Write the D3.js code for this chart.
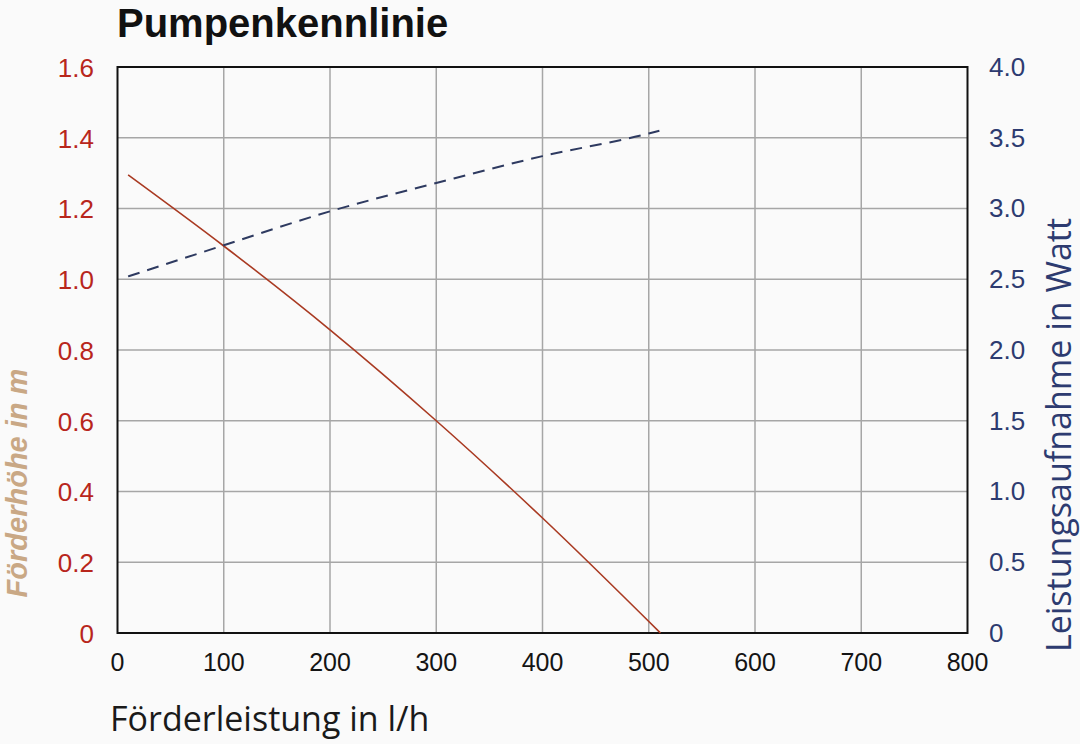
<!DOCTYPE html>
<html>
<head>
<meta charset="utf-8">
<script src="https://cdn.jsdelivr.net/npm/d3@7"></script>
<style>
  html, body { margin: 0; padding: 0; background: #fafafa; }
  svg { display: block; }
  .grid line { stroke: #a6a6a6; stroke-width: 1.5; }
  .tick-left { fill: #b8261c; font-family: "Liberation Sans", Arial, sans-serif; font-size: 26px; }
  .tick-right { fill: #2d3b70; font-family: "Liberation Sans", Arial, sans-serif; font-size: 26px; }
  .tick-bottom { fill: #141414; font-family: "Liberation Sans", Arial, sans-serif; font-size: 25px; }
</style>
</head>
<body>
<svg id="chart" width="1080" height="744" viewBox="0 0 1080 744"></svg>
<script>
// Förderleistung (l/h) sample points
const flowHead = [10, 100, 200, 300, 400, 511];
const headValues = [1.295, 1.094, 0.857, 0.6, 0.325, 0];
const flowPower = [10, 100, 200, 300, 400, 500, 510];
const powerValues = [2.52, 2.74, 2.98, 3.18, 3.37, 3.53, 3.55];

const xTicks = [0, 100, 200, 300, 400, 500, 600, 700, 800];
const headTicks = [0, 0.2, 0.4, 0.6, 0.8, 1.0, 1.2, 1.4, 1.6];
const powerTicks = [0, 0.5, 1.0, 1.5, 2.0, 2.5, 3.0, 3.5, 4.0];

const svg = d3.select("#chart");
const LEFT = 117.5;
const RIGHT = 967.5;
const TOP = 67;
const BOTTOM = 633;

const x = d3.scaleLinear().domain([0, 800]).range([LEFT, RIGHT]);
const yHead = d3.scaleLinear().domain([0, 1.6]).range([BOTTOM, TOP]);
const yPower = d3.scaleLinear().domain([0, 4]).range([BOTTOM, TOP]);

// grid
const grid = svg.append("g").attr("class", "grid");
grid.selectAll("line.v")
  .data(xTicks.slice(1, -1))
  .enter()
  .append("line")
  .attr("x1", (d) => x(d))
  .attr("x2", (d) => x(d))
  .attr("y1", TOP)
  .attr("y2", BOTTOM);
grid.selectAll("line.h")
  .data(headTicks.slice(1, -1))
  .enter()
  .append("line")
  .attr("x1", LEFT)
  .attr("x2", RIGHT)
  .attr("y1", (d) => yHead(d))
  .attr("y2", (d) => yHead(d));

// frame
svg.append("rect")
  .attr("x", LEFT)
  .attr("y", TOP)
  .attr("width", RIGHT - LEFT)
  .attr("height", BOTTOM - TOP)
  .attr("fill", "none")
  .attr("stroke", "#111")
  .attr("stroke-width", 2);

// curves
const headLine = d3.line()
  .x((d, i) => x(flowHead[i]))
  .y((d) => yHead(d))
  .curve(d3.curveMonotoneX);
svg.append("path")
  .attr("d", headLine(headValues))
  .attr("fill", "none")
  .attr("stroke", "#a93a22")
  .attr("stroke-width", 1.6);

const powerLine = d3.line()
  .x((d, i) => x(flowPower[i]))
  .y((d) => yPower(d))
  .curve(d3.curveMonotoneX);
svg.append("path")
  .attr("d", powerLine(powerValues))
  .attr("fill", "none")
  .attr("stroke", "#2e3a60")
  .attr("stroke-width", 2)
  .attr("stroke-dasharray", "12 8");

// tick labels
svg.append("g")
  .selectAll("text")
  .data(headTicks)
  .enter()
  .append("text")
  .attr("class", "tick-left")
  .attr("x", 94)
  .attr("y", (d) => yHead(d) + 3)
  .attr("text-anchor", "end")
  .attr("dominant-baseline", "middle")
  .text((d) => (d === 0 ? "0" : d.toFixed(1)));

svg.append("g")
  .selectAll("text")
  .data(powerTicks)
  .enter()
  .append("text")
  .attr("class", "tick-right")
  .attr("x", 989)
  .attr("y", (d) => yPower(d) + 2)
  .attr("text-anchor", "start")
  .attr("dominant-baseline", "middle")
  .text((d) => (d === 0 ? "0" : d.toFixed(1)));

svg.append("g")
  .selectAll("text")
  .data(xTicks)
  .enter()
  .append("text")
  .attr("class", "tick-bottom")
  .attr("x", (d) => x(d))
  .attr("y", 664)
  .attr("text-anchor", "middle")
  .attr("dominant-baseline", "middle")
  .text((d) => d);

// titles
svg.append("text")
  .attr("x", 117)
  .attr("y", 37)
  .attr("font-family", "Liberation Sans, Arial, sans-serif")
  .attr("font-weight", "bold")
  .attr("font-size", 40)
  .attr("fill", "#111")
  .text("Pumpenkennlinie");

svg.append("text")
  .attr("transform", "translate(27,483) rotate(-90)")
  .attr("text-anchor", "middle")
  .attr("font-family", "Liberation Sans, Arial, sans-serif")
  .attr("font-weight", "bold")
  .attr("font-style", "italic")
  .attr("font-size", 29)
  .attr("fill", "#c9a885")
  .text("Förderhöhe in m");

svg.append("text")
  .attr("transform", "translate(1071,435) rotate(-90)")
  .attr("text-anchor", "middle")
  .attr("font-family", "Open Sans, sans-serif")
  .attr("font-size", 34)
  .attr("fill", "#2d3b70")
  .text("Leistungsaufnahme in Watt");

svg.append("text")
  .attr("x", 110)
  .attr("y", 731)
  .attr("font-family", "Open Sans, sans-serif")
  .attr("font-size", 34)
  .attr("fill", "#1a1a1a")
  .text("Förderleistung in l/h");
</script>
</body>
</html>
